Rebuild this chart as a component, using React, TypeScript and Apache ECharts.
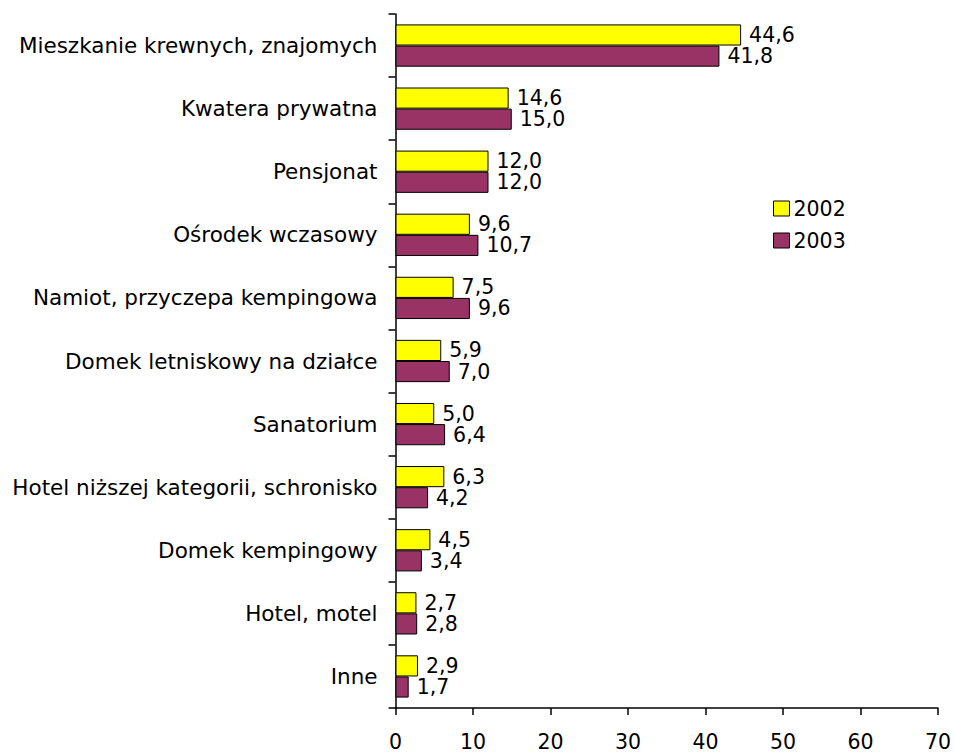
import React, { useEffect, useRef } from "react";
import * as echarts from "echarts";

const categories = [
  "Mieszkanie krewnych, znajomych",
  "Kwatera prywatna",
  "Pensjonat",
  "Ośrodek wczasowy",
  "Namiot, przyczepa kempingowa",
  "Domek letniskowy na działce",
  "Sanatorium",
  "Hotel niższej kategorii, schronisko",
  "Domek kempingowy",
  "Hotel, motel",
  "Inne",
];
const values2002 = [44.6, 14.6, 12.0, 9.6, 7.5, 5.9, 5.0, 6.3, 4.5, 2.7, 2.9];
const values2003 = [41.8, 15.0, 12.0, 10.7, 9.6, 7.0, 6.4, 4.2, 3.4, 2.8, 1.7];
const xTicks = { min: 0, max: 70, interval: 10 };

const FONT = "DejaVu Sans";

export default function App() {
  const ref = useRef<HTMLDivElement>(null);
  useEffect(() => {
    if (!ref.current) return;
    const chart = echarts.init(ref.current, null, { renderer: "svg" });
    const fmt = (p: any) => Number(p.value).toFixed(1).replace(".", ",");
    const label = {
      show: true,
      position: "right",
      distance: 8,
      color: "#000",
      fontFamily: FONT,
      fontSize: 20.5,
      formatter: fmt,
    };
    chart.setOption({
      animation: false,
      backgroundColor: "#fff",
      textStyle: { fontFamily: FONT },
      grid: { left: 395.5, right: 16, top: 14, bottom: 46, containLabel: false },
      legend: {
        orient: "vertical",
        left: 773,
        top: 198,
        padding: 0,
        icon: "rect",
        itemWidth: 16,
        itemHeight: 15,
        itemGap: 11,
        itemStyle: { borderColor: "#000", borderWidth: 1 },
        textStyle: { fontFamily: FONT, fontSize: 20.5, color: "#000", padding: [0, 0, 0, -1] },
        data: ["2002", "2003"],
      },
      xAxis: {
        type: "value",
        min: xTicks.min,
        max: xTicks.max,
        interval: xTicks.interval,
        splitLine: { show: false },
        axisLine: { show: true, lineStyle: { color: "#000", width: 1.5 } },
        axisTick: { show: true, length: 7, lineStyle: { color: "#000", width: 1.5 } },
        axisLabel: { color: "#000", fontFamily: FONT, fontSize: 20.5, margin: 23 },
      },
      yAxis: {
        type: "category",
        inverse: true,
        data: categories,
        axisLine: { show: true, lineStyle: { color: "#000", width: 1.5 } },
        axisTick: { show: true, length: 7, lineStyle: { color: "#000", width: 1.5 } },
        axisLabel: { color: "#000", fontFamily: FONT, fontSize: 21.5, margin: 18 },
      },
      series: [
        {
          name: "2002",
          type: "bar",
          data: values2002,
          barGap: "0%",
          barCategoryGap: "33%",
          itemStyle: { color: "#FFFF00", borderColor: "#000", borderWidth: 1 },
          label,
        },
        {
          name: "2003",
          type: "bar",
          data: values2003,
          barGap: "0%",
          barCategoryGap: "33%",
          itemStyle: { color: "#993366", borderColor: "#000", borderWidth: 1 },
          label,
        },
      ],
    });
    return () => chart.dispose();
  }, []);
  return <div ref={ref} style={{ width: 954, height: 754, position: "absolute", left: 0, top: 0 }} />;
}
